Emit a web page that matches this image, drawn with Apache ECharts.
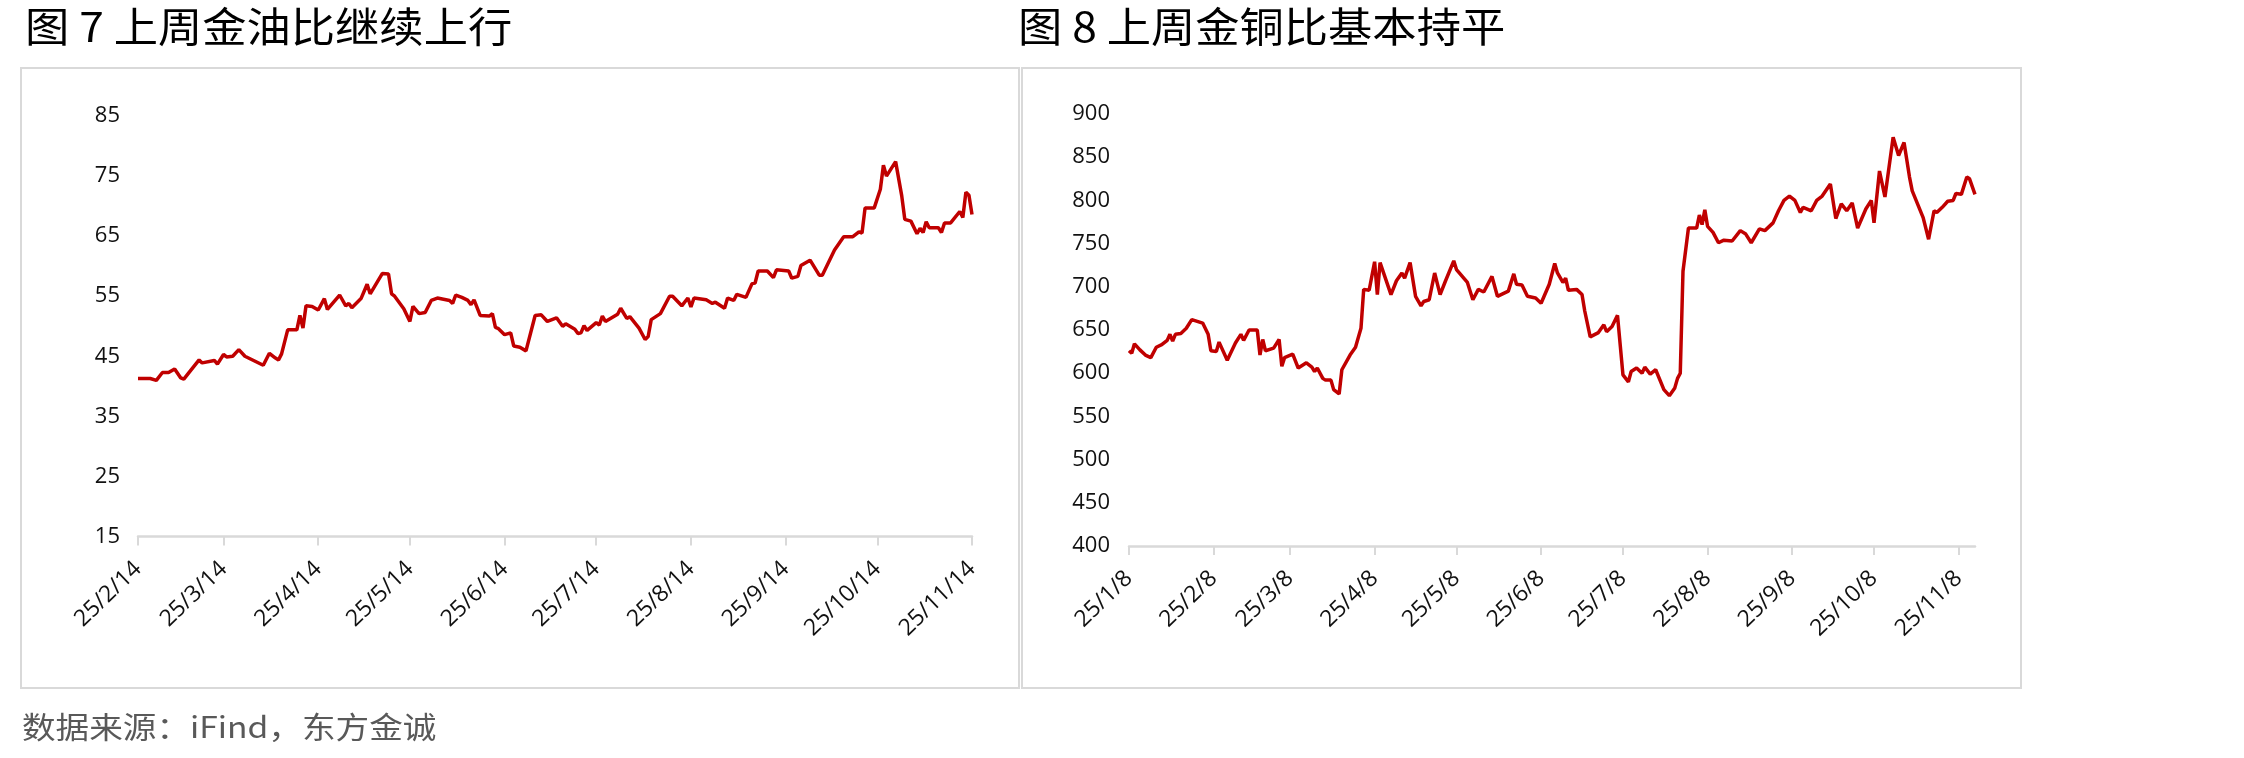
<!DOCTYPE html>
<html>
<head>
<meta charset="utf-8">
<script src="https://cdn.jsdelivr.net/npm/echarts@6/dist/echarts.min.js"></script>
<style>
  html, body { margin: 0; padding: 0; background: #fff; }
  #main { width: 2244px; height: 758px; }
</style>
</head>
<body>
<div id="main"></div>
<script>
// 图7 金油比 (2025)
const oilDates = [
  '02-14','02-18','02-20','02-22','02-24','02-26','02-28',
  '03-01','03-03','03-06','03-07','03-11','03-12','03-14','03-15','03-17','03-19','03-21','03-25','03-27','03-29','03-31',
  '04-01','04-02','04-04','04-07','04-08','04-09','04-10','04-12','04-14','04-16','04-17','04-21','04-23','04-24','04-25','04-28','04-30',
  '05-01','05-05','05-07','05-08','05-09','05-12','05-14','05-15','05-17','05-19','05-21','05-23','05-27','05-28','05-29','05-31',
  '06-02','06-03','06-04','06-06','06-09','06-10','06-11','06-12','06-14','06-16','06-17','06-19','06-21','06-24','06-26','06-28',
  '07-01','07-03','07-04','07-07','07-08','07-09','07-10','07-11','07-14','07-15','07-16','07-17','07-21','07-22','07-24','07-25','07-28','07-30','07-31',
  '08-01','08-04','08-07','08-08','08-11','08-13','08-14','08-15','08-19','08-21','08-22','08-25','08-26','08-28','08-29',
  '09-01','09-03','09-04','09-05','09-08','09-10','09-11','09-15','09-16','09-18','09-19','09-22','09-25','09-26','09-30',
  '10-03','10-06','10-08','10-09','10-10','10-13','10-15','10-16','10-17','10-20','10-22','10-23','10-25','10-27','10-28','10-29','10-30','10-31',
  '11-03','11-04','11-05','11-07','11-10','11-11','11-12','11-13','11-14'
];
const oilValues = [
  41.3,41.3,41.0,42.3,42.3,42.9,41.4,
  41.2,42.5,44.4,43.9,44.3,43.7,45.3,44.9,45.0,46.1,45.0,44.0,43.5,45.5,44.7,
  44.4,45.4,49.4,49.4,51.8,49.7,53.4,53.3,52.7,54.6,52.8,55.2,53.4,53.8,53.1,54.6,57.0,
  55.4,58.8,58.7,55.4,55.0,52.9,50.8,53.3,52.1,52.3,54.3,54.7,54.3,53.8,55.2,54.8,
  54.3,53.6,54.4,51.8,51.7,52.1,49.8,49.6,48.6,48.9,46.7,46.5,45.9,51.8,51.9,50.8,
  51.4,50.0,50.4,49.5,48.8,48.9,50.1,49.3,50.6,50.2,51.7,50.8,52.0,53.0,51.3,51.6,49.7,47.8,48.3,
  51.1,52.1,55.0,55.0,53.4,54.7,53.2,54.7,54.4,53.8,54.0,53.0,54.7,54.3,55.3,
  54.8,57.1,57.2,59.2,59.2,58.1,59.4,59.2,58.0,58.3,60.1,61.0,58.5,58.5,62.7,
  64.9,64.9,65.7,65.5,69.7,69.7,72.8,76.8,75.0,77.4,71.7,67.8,67.5,65.4,66.3,65.6,67.4,66.4,
  66.4,65.6,67.2,67.2,69.1,68.1,72.3,71.8,68.6
];
const oilRange = ['02-14', '11-14'];
const oilTickDay = '14';
const oilYAxis = { min: 15, max: 85, interval: 10 };

// 图8 金铜比 (2025)
const copperDates = [
  '01-08','01-09','01-10','01-12','01-14','01-16','01-18','01-20','01-22','01-23','01-24','01-25','01-27','01-29','01-31',
  '02-02','02-04','02-06','02-07','02-09','02-10','02-13','02-16','02-18','02-19','02-21','02-24','02-25','02-26','02-27',
  '03-02','03-04','03-05','03-06','03-09','03-11','03-14','03-16','03-17','03-18','03-20','03-21','03-23','03-24','03-26','03-27','03-30',
  '04-01','04-03','04-04','04-06','04-08','04-09','04-10','04-14','04-16','04-18','04-19','04-21','04-23','04-25','04-26','04-28','04-30',
  '05-02','05-04','05-07','05-08','05-12','05-14','05-16','05-18','05-21','05-23','05-27','05-29','05-30',
  '06-01','06-03','06-06','06-08','06-11','06-13','06-14','06-16','06-17','06-18','06-21','06-23','06-24','06-26','06-29',
  '07-01','07-02','07-04','07-06','07-08','07-10','07-11','07-13','07-15','07-16','07-18','07-20','07-23','07-25','07-27','07-28','07-29','07-30',
  '08-01','08-04','08-05','08-06','08-07','08-08','08-10','08-12','08-14','08-17','08-20','08-22','08-24','08-27','08-29',
  '09-01','09-03','09-05','09-07','09-09','09-11','09-12','09-15','09-17','09-19','09-22','09-24','09-26','09-28','09-30',
  '10-02','10-05','10-07','10-08','10-10','10-12','10-15','10-17','10-19','10-21','10-22','10-26','10-28','10-30','10-31',
  '11-02','11-04','11-06','11-07','11-09','11-11','11-12','11-14'
];
const copperValues = [
  626,623,634,627,621,618,630,633,638,645,637,645,646,652,662,
  660,658,645,626,625,636,615,635,645,638,650,650,621,639,626,
  629,639,608,618,622,606,612,607,602,606,594,592,592,581,576,604,621,
  630,652,697,696,729,691,728,691,707,716,710,728,689,678,683,685,716,
  691,707,730,720,705,685,697,694,712,689,695,715,703,
  702,689,687,681,703,727,716,705,710,696,697,691,672,642,647,
  656,648,654,667,598,590,602,606,600,607,599,604,581,574,583,594,600,718,
  768,768,783,772,789,770,763,751,754,753,765,761,751,767,765,
  774,788,800,805,800,786,792,788,800,805,819,779,796,788,797,
  768,790,800,774,834,804,873,852,867,827,811,780,755,788,786,
  792,799,800,808,807,827,825,807
];
const copperRange = ['01-08', '11-14'];
const copperTickDay = '08';
const copperYAxis = { min: 400, max: 900, interval: 50 };

const YEAR = 2025;
const lineColor = '#C00000';
const axisGray = '#d9d9d9';
const labelFont = 'Open Sans';

function pad(n) { return (n < 10 ? '0' : '') + n; }

// every calendar day between two MM-DD keys
function calendarDays(range) {
  const [m0, d0] = range[0].split('-').map(Number);
  const [m1, d1] = range[1].split('-').map(Number);
  const t = new Date(Date.UTC(YEAR, m0 - 1, d0));
  const end = Date.UTC(YEAR, m1 - 1, d1);
  const out = [];
  while (t.getTime() <= end) {
    out.push(pad(t.getUTCMonth() + 1) + '-' + pad(t.getUTCDate()));
    t.setUTCDate(t.getUTCDate() + 1);
  }
  return out;
}

function alignSeries(days, dates, values) {
  const map = {};
  dates.forEach((d, i) => { map[d] = values[i]; });
  return days.map(d => (d in map ? map[d] : null));
}

function fmtDate(v) {
  const [m, d] = v.split('-');
  return String(YEAR).slice(2) + '/' + (+m) + '/' + (+d);
}

const oilDays = calendarDays(oilRange);
const copperDays = calendarDays(copperRange);

function xAxisFor(days, tickDay, gridIndex) {
  const pick = (idx, val) => val.slice(3) === tickDay;
  return {
    type: 'category',
    gridIndex: gridIndex,
    data: days,
    boundaryGap: false,
    axisLine: { show: true, lineStyle: { color: axisGray, width: 2.5 } },
    axisTick: { show: true, interval: pick, length: 9, lineStyle: { color: axisGray, width: 2 } },
    axisLabel: {
      interval: pick,
      rotate: 44,
      margin: 29,
      color: '#111',
      fontSize: 23,
      fontFamily: labelFont,
      formatter: fmtDate
    },
    splitLine: { show: false }
  };
}

function yAxisFor(cfg, gridIndex, margin) {
  return {
    type: 'value',
    gridIndex: gridIndex,
    min: cfg.min,
    max: cfg.max,
    interval: cfg.interval,
    axisLine: { show: false },
    axisTick: { show: false },
    splitLine: { show: false },
    axisLabel: { color: '#111', fontSize: 22, fontFamily: labelFont, margin: margin }
  };
}

const chart = echarts.init(document.getElementById('main'), null, { renderer: 'canvas' });

const option = {
  backgroundColor: '#ffffff',
  animation: false,
  grid: [
    { left: 138, top: 116, width: 834, height: 420.5 },
    { left: 1129, top: 114, width: 846, height: 432 }
  ],
  xAxis: [
    xAxisFor(oilDays, oilTickDay, 0),
    xAxisFor(copperDays, copperTickDay, 1)
  ],
  yAxis: [
    yAxisFor(oilYAxis, 0, 18),
    yAxisFor(copperYAxis, 1, 19)
  ],
  series: [
    {
      name: '金油比',
      type: 'line',
      xAxisIndex: 0,
      yAxisIndex: 0,
      data: alignSeries(oilDays, oilDates, oilValues),
      connectNulls: true,
      showSymbol: false,
      lineStyle: { color: lineColor, width: 3.5 }
    },
    {
      name: '金铜比',
      type: 'line',
      xAxisIndex: 1,
      yAxisIndex: 1,
      data: alignSeries(copperDays, copperDates, copperValues),
      connectNulls: true,
      showSymbol: false,
      lineStyle: { color: lineColor, width: 3.5 }
    }
  ],
  graphic: [
    {
      type: 'rect', silent: true,
      shape: { x: 21, y: 68, width: 998, height: 620 },
      style: { fill: 'none', stroke: axisGray, lineWidth: 2 }
    },
    {
      type: 'rect', silent: true,
      shape: { x: 1022, y: 68, width: 999, height: 620 },
      style: { fill: 'none', stroke: axisGray, lineWidth: 2 }
    },
    {
      type: 'text', x: 25, y: 26, scaleX: 1.08,
      style: { text: '图 7 上周金油比继续上行', font: '41px "Noto Sans CJK SC"', fill: '#000', verticalAlign: 'middle' }
    },
    {
      type: 'text', x: 1018, y: 26, scaleX: 1.08,
      style: { text: '图 8 上周金铜比基本持平', font: '41px "Noto Sans CJK SC"', fill: '#000', verticalAlign: 'middle' }
    },
    {
      type: 'text', x: 22, y: 727, scaleX: 1.12,
      style: { text: '数据来源：iFind，东方金诚', font: '30px "Noto Sans CJK SC"', fill: '#595959', verticalAlign: 'middle' }
    }
  ]
};

chart.setOption(option);
</script>
</body>
</html>
